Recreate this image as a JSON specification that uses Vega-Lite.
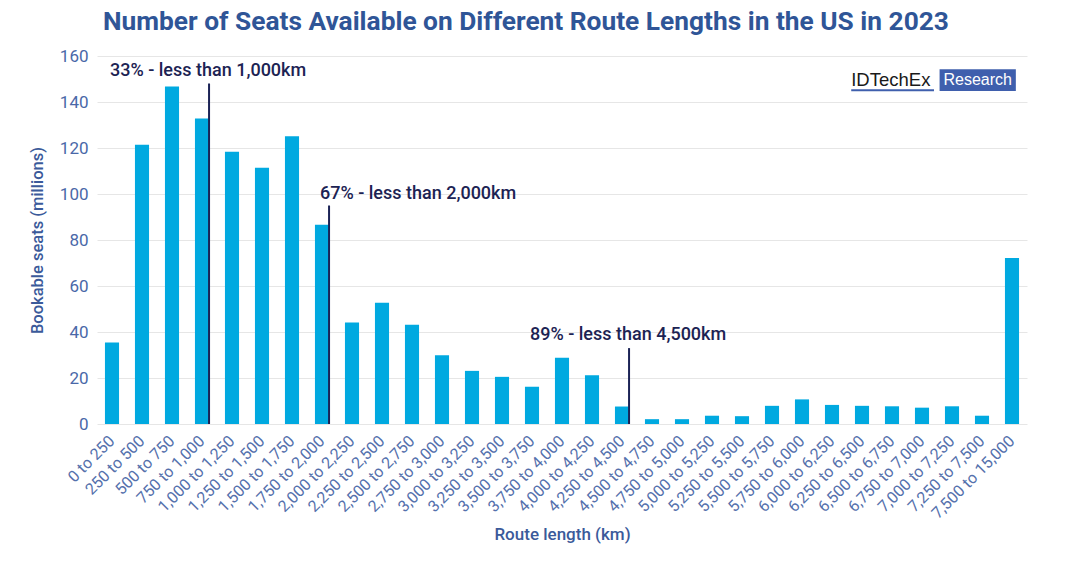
{
  "$schema": "https://vega.github.io/schema/vega-lite/v6.json",
  "description": "Number of Seats Available on Different Route Lengths in the US in 2023",
  "autosize": {"type": "none"},
  "padding": {"left": 97, "top": 56, "right": 53, "bottom": 141},
  "width": 930,
  "height": 368,
  "title": {
    "text": "Number of Seats Available on Different Route Lengths in the US in 2023",
    "anchor": "start",
    "frame": "group",
    "dx": 6,
    "offset": 12,
    "font": "Roboto",
    "fontSize": 26.3,
    "fontWeight": "bold",
    "color": "#2f5597"
  },
  "datasets": {
    "seats": [
      {"route": "0 to 250", "seats": 35.4},
      {"route": "250 to 500", "seats": 121.4},
      {"route": "500 to 750", "seats": 146.7},
      {"route": "750 to 1,000", "seats": 132.8},
      {"route": "1,000 to 1,250", "seats": 118.4},
      {"route": "1,250 to 1,500", "seats": 111.4},
      {"route": "1,500 to 1,750", "seats": 125.1},
      {"route": "1,750 to 2,000", "seats": 86.6},
      {"route": "2,000 to 2,250", "seats": 44.1},
      {"route": "2,250 to 2,500", "seats": 52.7},
      {"route": "2,500 to 2,750", "seats": 43.1},
      {"route": "2,750 to 3,000", "seats": 29.9},
      {"route": "3,000 to 3,250", "seats": 23.1},
      {"route": "3,250 to 3,500", "seats": 20.5},
      {"route": "3,500 to 3,750", "seats": 16.2},
      {"route": "3,750 to 4,000", "seats": 28.8},
      {"route": "4,000 to 4,250", "seats": 21.2},
      {"route": "4,250 to 4,500", "seats": 7.6},
      {"route": "4,500 to 4,750", "seats": 2.1},
      {"route": "4,750 to 5,000", "seats": 2.1},
      {"route": "5,000 to 5,250", "seats": 3.6},
      {"route": "5,250 to 5,500", "seats": 3.4},
      {"route": "5,500 to 5,750", "seats": 7.9},
      {"route": "5,750 to 6,000", "seats": 10.7},
      {"route": "6,000 to 6,250", "seats": 8.3},
      {"route": "6,250 to 6,500", "seats": 7.9},
      {"route": "6,500 to 6,750", "seats": 7.7},
      {"route": "6,750 to 7,000", "seats": 7.1},
      {"route": "7,000 to 7,250", "seats": 7.7},
      {"route": "7,250 to 7,500", "seats": 3.6},
      {"route": "7,500 to 15,000", "seats": 72.2}
    ],
    "marks": [
      {"route": "750 to 1,000", "start": "0 to 250", "top": 148, "label_y": 153.5, "label": "33% - less than 1,000km"},
      {"route": "1,750 to 2,000", "start": "1,750 to 2,000", "top": 95, "label_y": 100, "label": "67% - less than 2,000km"},
      {"route": "4,250 to 4,500", "start": "3,500 to 3,750", "top": 33, "label_y": 38.7, "label": "89% - less than 4,500km"}
    ],
    "logo": [
      {"name": "IDTechEx", "tag": "Research", "x": 0.811, "x2": 0.9, "bx": 0.906, "bx2": 0.988, "tx": 0.947, "y": 149.6, "by": 154.2, "by2": 144.8, "uy": 145.1}
    ]
  },
  "layer": [
    {
      "data": {"name": "seats"},
      "encoding": {
        "x": {
          "field": "route",
          "type": "nominal",
          "scale": {
            "domain": ["0 to 250", "250 to 500", "500 to 750", "750 to 1,000", "1,000 to 1,250", "1,250 to 1,500", "1,500 to 1,750", "1,750 to 2,000", "2,000 to 2,250", "2,250 to 2,500", "2,500 to 2,750", "2,750 to 3,000", "3,000 to 3,250", "3,250 to 3,500", "3,500 to 3,750", "3,750 to 4,000", "4,000 to 4,250", "4,250 to 4,500", "4,500 to 4,750", "4,750 to 5,000", "5,000 to 5,250", "5,250 to 5,500", "5,500 to 5,750", "5,750 to 6,000", "6,000 to 6,250", "6,250 to 6,500", "6,500 to 6,750", "6,750 to 7,000", "7,000 to 7,250", "7,250 to 7,500", "7,500 to 15,000"],
            "paddingInner": 0.53,
            "paddingOuter": 0.265
          },
          "axis": {
            "title": "Route length (km)",
            "labelAngle": -45,
            "labelAlign": "right",
            "labelBaseline": "middle",
            "labelPadding": 14,
            "labelFont": "Roboto",
            "labelFontSize": 16,
            "labelColor": "#5470ac",
            "ticks": false,
            "domain": false,
            "titleFont": "Roboto",
            "titleFontSize": 17,
            "titleFontWeight": 500,
            "titleColor": "#3b5a9a",
            "titlePadding": 6
          }
        },
        "y": {
          "field": "seats",
          "type": "quantitative",
          "scale": {"domain": [0, 160]},
          "axis": {
            "title": "Bookable seats (millions)",
            "values": [0, 20, 40, 60, 80, 100, 120, 140, 160],
            "ticks": false,
            "domain": false,
            "labelPadding": 9,
            "labelFont": "Roboto",
            "labelFontSize": 17,
            "labelColor": "#4a68a8",
            "gridColor": "#e6e6e6",
            "titleFont": "Roboto",
            "titleFontSize": 16.5,
            "titleFontWeight": 500,
            "titleColor": "#3b5a9a",
            "titlePadding": 14
          }
        }
      },
      "layer": [
        {
          "mark": {"type": "bar", "color": "#00a9e0"}
        },
        {
          "data": {"name": "marks"},
          "mark": {"type": "rule", "color": "#1b2356", "strokeWidth": 2},
          "encoding": {
            "x": {"field": "route", "type": "nominal", "bandPosition": 1},
            "y": {"field": "top", "type": "quantitative"},
            "y2": {"datum": 0}
          }
        },
        {
          "data": {"name": "marks"},
          "mark": {"type": "text", "align": "left", "baseline": "middle", "dx": 5, "font": "Roboto", "fontSize": 18, "fontWeight": 500, "color": "#1c2353"},
          "encoding": {
            "x": {"field": "start", "type": "nominal", "bandPosition": 0},
            "y": {"field": "label_y", "type": "quantitative"},
            "text": {"field": "label"}
          }
        }
      ]
    },
    {
      "data": {"name": "logo"},
      "layer": [
        {
          "mark": {"type": "rect", "color": "#3f5fad"},
          "encoding": {
            "x": {"field": "bx", "type": "quantitative", "scale": {"domain": [0, 1]}, "axis": null},
            "x2": {"field": "bx2"},
            "y": {"field": "by", "type": "quantitative"},
            "y2": {"field": "by2"}
          }
        },
        {
          "mark": {"type": "text", "align": "center", "baseline": "middle", "font": "Liberation Sans", "fontSize": 16, "color": "white"},
          "encoding": {
            "x": {"field": "tx", "type": "quantitative"},
            "y": {"field": "y", "type": "quantitative"},
            "text": {"field": "tag"}
          }
        },
        {
          "mark": {"type": "text", "align": "left", "baseline": "middle", "font": "Liberation Sans", "fontSize": 18.5, "color": "#1a1a1a"},
          "encoding": {
            "x": {"field": "x", "type": "quantitative"},
            "y": {"field": "y", "type": "quantitative"},
            "text": {"field": "name"}
          }
        },
        {
          "mark": {"type": "rule", "color": "#3f5fad", "strokeWidth": 2},
          "encoding": {
            "x": {"field": "x", "type": "quantitative"},
            "x2": {"field": "x2"},
            "y": {"field": "uy", "type": "quantitative"}
          }
        }
      ]
    }
  ],
  "resolve": {"scale": {"x": "independent"}, "axis": {"x": "independent"}},
  "config": {
    "view": {"stroke": null},
    "background": "white"
  }
}
